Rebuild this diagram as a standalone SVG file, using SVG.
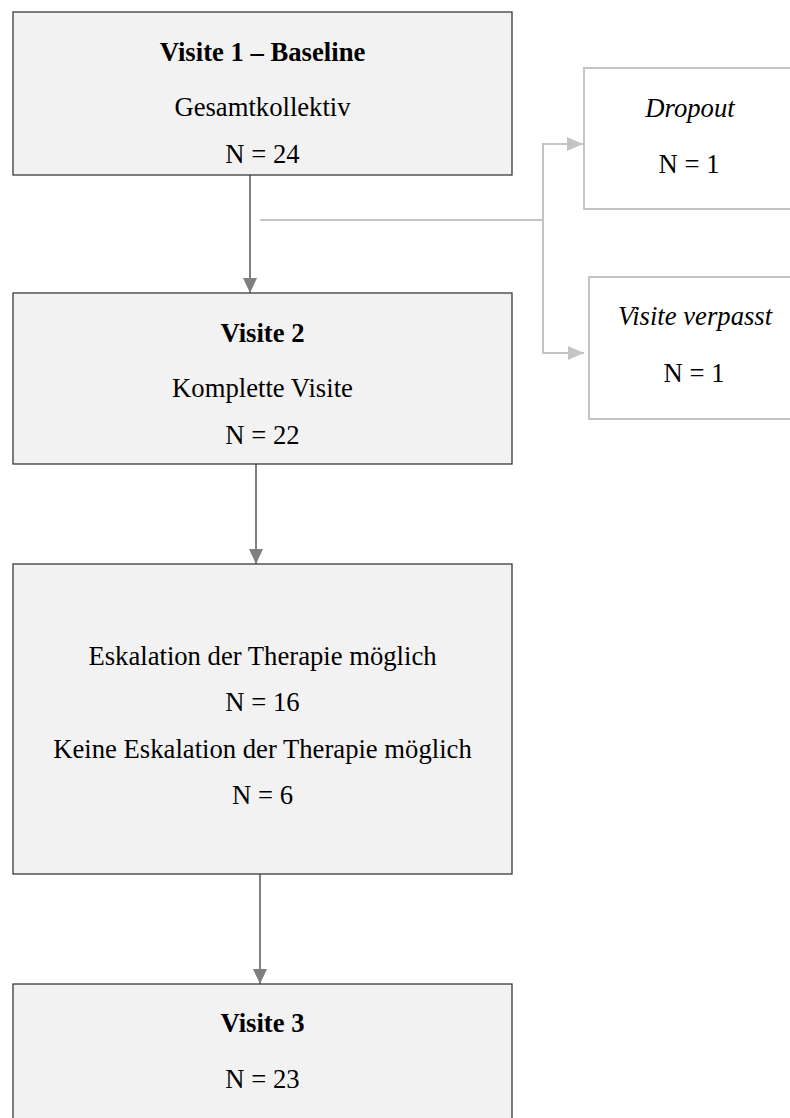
<svg xmlns="http://www.w3.org/2000/svg" width="790" height="1118" viewBox="0 0 790 1118">
<style>
.main{fill:#f2f2f2;stroke:#3a3a3a;stroke-width:1.3}
.side{fill:#ffffff;stroke:#c4c4c4;stroke-width:2}
.t{font-family:"Liberation Serif","Times New Roman",serif;font-size:26.67px;fill:#000;text-anchor:middle}
.b{font-weight:bold}
.i{font-style:italic}
.c1{fill:none;stroke:#808080;stroke-width:2}
.c2{fill:none;stroke:#c4c4c4;stroke-width:2}
</style>
<defs>
<marker id="ad" markerUnits="userSpaceOnUse" markerWidth="15" markerHeight="14" refX="15" refY="7" orient="auto"><path d="M0,0 L15,7 L0,14 z" fill="#808080"/></marker>
<marker id="al" markerUnits="userSpaceOnUse" markerWidth="16" markerHeight="14" refX="16" refY="7" orient="auto"><path d="M0,0 L16,7 L0,14 z" fill="#c4c4c4"/></marker>
</defs>
<rect width="790" height="1118" fill="#ffffff"/>
<g id="connectors">
<path class="c1" d="M250,175 V293" marker-end="url(#ad)"/>
<path class="c1" d="M256,464 V564" marker-end="url(#ad)"/>
<path class="c1" d="M260,874 V984" marker-end="url(#ad)"/>
<path class="c2" d="M260,220 H543"/>
<path class="c2" d="M543,221 V144 H583" marker-end="url(#al)"/>
<path class="c2" d="M543,219 V353 H584" marker-end="url(#al)"/>
</g>
<g id="visite1">
<rect class="main" x="13" y="12" width="499" height="163"/>
<text class="t b" x="262.5" y="61">Visite 1 – Baseline</text>
<text class="t" x="262.5" y="116">Gesamtkollektiv</text>
<text class="t" x="262.5" y="163">N = 24</text>
</g>
<g id="dropout">
<rect class="side" x="584" y="68" width="212" height="141"/>
<text class="t i" x="690" y="117">Dropout</text>
<text class="t" x="689" y="173">N = 1</text>
</g>
<g id="verpasst">
<rect class="side" x="589" y="277" width="212" height="142"/>
<text class="t i" x="695" y="325">Visite verpasst</text>
<text class="t" x="694" y="382">N = 1</text>
</g>
<g id="visite2">
<rect class="main" x="13" y="293" width="499" height="171"/>
<text class="t b" x="262.5" y="342">Visite 2</text>
<text class="t" x="262.5" y="397">Komplette Visite</text>
<text class="t" x="262.5" y="444">N = 22</text>
</g>
<g id="eskalation">
<rect class="main" x="13" y="564" width="499" height="310"/>
<text class="t" x="262.5" y="665">Eskalation der Therapie möglich</text>
<text class="t" x="262.5" y="711">N = 16</text>
<text class="t" x="262.5" y="758">Keine Eskalation der Therapie möglich</text>
<text class="t" x="262.5" y="804">N = 6</text>
</g>
<g id="visite3">
<rect class="main" x="13" y="984" width="499" height="200"/>
<text class="t b" x="262.5" y="1032">Visite 3</text>
<text class="t" x="262.5" y="1088">N = 23</text>
</g>
</svg>
